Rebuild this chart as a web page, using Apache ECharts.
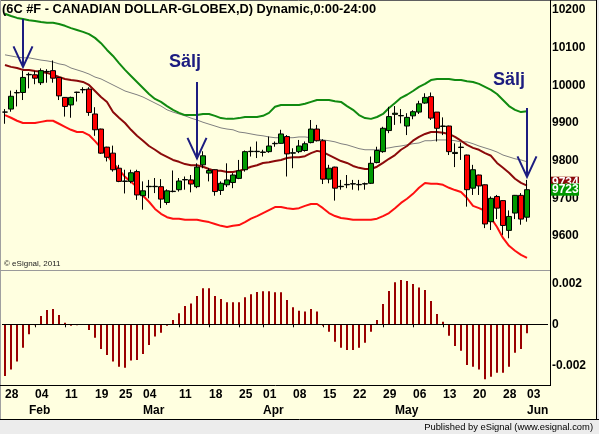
<!DOCTYPE html>
<html>
<head>
<meta charset="utf-8">
<script src="https://cdn.jsdelivr.net/npm/echarts@6/dist/echarts.min.js"></script>
<style>
  html, body { margin: 0; padding: 0; background: #ffffe0; }
  #chart { width: 599px; height: 434px; }
</style>
</head>
<body>
<div id="chart"></div>
<script>
// trading days shown (2010)
const dates = [
  '01-28', '01-29', '02-01', '02-02', '02-03', '02-04', '02-05', '02-08', '02-09', '02-10',
  '02-11', '02-12', '02-16', '02-17', '02-18', '02-19', '02-22', '02-23', '02-24', '02-25',
  '02-26', '03-01', '03-02', '03-03', '03-04', '03-05', '03-08', '03-09', '03-10', '03-11',
  '03-12', '03-15', '03-16', '03-17', '03-18', '03-19', '03-22', '03-23', '03-24', '03-25',
  '03-26', '03-29', '03-30', '03-31', '04-01', '04-05', '04-06', '04-07', '04-08', '04-09',
  '04-12', '04-13', '04-14', '04-15', '04-16', '04-19', '04-20', '04-21', '04-22', '04-23',
  '04-26', '04-27', '04-28', '04-29', '04-30', '05-03', '05-04', '05-05', '05-06', '05-07',
  '05-10', '05-11', '05-12', '05-13', '05-14', '05-17', '05-18', '05-19', '05-20', '05-21',
  '05-24', '05-25', '05-26', '05-27', '05-28', '06-01', '06-02', '06-03'
]
const emptyBars = ['pad1', 'pad2', 'pad3']

const opens = [
  9929, 9937, 9980, 9981, 10028, 10028, 10007, 10036, 10039, 10021,
  9968, 9948, 9981, 9988, 9990, 9924, 9884, 9836, 9820, 9780,
  9745, 9745, 9771, 9707, 9731, 9731, 9731, 9689, 9718, 9723,
  9749, 9749, 9731, 9789, 9767, 9776, 9721, 9736, 9742, 9753,
  9776, 9824, 9824, 9822, 9824, 9845, 9846, 9864, 9820, 9824,
  9827, 9848, 9884, 9853, 9751, 9783, 9731, 9736, 9738, 9736,
  9738, 9740, 9795, 9824, 9880, 9923, 9919, 9892, 9919, 9929,
  9953, 9970, 9929, 9891, 9892, 9819, 9835, 9815, 9727, 9762,
  9736, 9638, 9705, 9694, 9615, 9661, 9708, 9650
]
const highs = [
  9937, 9986, 9988, 10039, 10034, 10038, 10045, 10043, 10066, 10022,
  9969, 9970, 9983, 9995, 9995, 9942, 9885, 9837, 9840, 9789,
  9776, 9776, 9776, 9745, 9749, 9754, 9751, 9724, 9774, 9754,
  9758, 9762, 9793, 9825, 9780, 9777, 9745, 9793, 9767, 9802,
  9827, 9837, 9851, 9829, 9864, 9851, 9882, 9868, 9833, 9855,
  9851, 9908, 9895, 9857, 9789, 9784, 9749, 9762, 9749, 9749,
  9742, 9811, 9837, 9890, 9943, 9945, 9937, 9926, 9934, 9959,
  9979, 9981, 9929, 9915, 9893, 9846, 9848, 9816, 9789, 9763,
  9737, 9705, 9709, 9695, 9668, 9709, 9714, 9749
]
const lows = [
  9898, 9930, 9944, 9961, 9992, 10003, 10001, 10007, 10007, 9961,
  9917, 9914, 9957, 9979, 9919, 9866, 9818, 9798, 9771, 9743,
  9713, 9740, 9696, 9670, 9700, 9714, 9674, 9683, 9716, 9718,
  9723, 9716, 9727, 9780, 9745, 9707, 9709, 9730, 9727, 9751,
  9771, 9811, 9807, 9811, 9821, 9837, 9845, 9758, 9780, 9820,
  9824, 9846, 9851, 9738, 9740, 9694, 9723, 9727, 9723, 9721,
  9723, 9738, 9793, 9821, 9873, 9895, 9899, 9868, 9910, 9924,
  9951, 9908, 9851, 9868, 9815, 9783, 9802, 9678, 9709, 9709,
  9621, 9616, 9645, 9603, 9594, 9645, 9630, 9638
]
const closes = [
  9929, 9971, 9981, 10021, 10029, 10019, 10039, 10037, 10019, 9972,
  9944, 9968, 9982, 9989, 9928, 9882, 9820, 9809, 9776, 9745,
  9746, 9768, 9709, 9720, 9732, 9732, 9698, 9720, 9719, 9746,
  9750, 9738, 9783, 9813, 9774, 9718, 9740, 9749, 9762, 9773,
  9824, 9825, 9825, 9823, 9839, 9846, 9871, 9818, 9821, 9839,
  9845, 9884, 9853, 9751, 9780, 9727, 9732, 9737, 9739, 9737,
  9739, 9793, 9827, 9886, 9917, 9926, 9920, 9915, 9930, 9951,
  9968, 9913, 9886, 9892, 9824, 9822, 9836, 9723, 9776, 9733,
  9632, 9700, 9674, 9628, 9652, 9708, 9645, 9723
]

const upperBand = [
  10190, 10184, 10179, 10176, 10173, 10171, 10168, 10166, 10166, 10163,
  10158, 10152, 10147, 10142, 10136, 10126, 10112, 10094, 10078, 10059,
  10041, 10025, 10009, 9993, 9977, 9964, 9956, 9945, 9935, 9927,
  9921, 9921, 9921, 9924, 9924, 9919, 9913, 9911, 9911, 9913,
  9916, 9916, 9916, 9919, 9927, 9943, 9948, 9948, 9948, 9948,
  9951, 9956, 9961, 9961, 9961, 9958, 9956, 9945, 9935, 9921,
  9913, 9911, 9916, 9924, 9940, 9953, 9967, 9975, 9985, 9996,
  10004, 10014, 10017, 10017, 10017, 10014, 10014, 10011, 10009, 10004,
  9996, 9988, 9977, 9961, 9945, 9935, 9929, 9931
]
const midAvg = [
  10054, 10049, 10046, 10041, 10041, 10038, 10036, 10033, 10028, 10022,
  10017, 10014, 10012, 10009, 10001, 9985, 9969, 9956, 9929, 9914,
  9900, 9882, 9866, 9853, 9839, 9829, 9818, 9810, 9802, 9797,
  9791, 9788, 9788, 9784, 9778, 9773, 9773, 9770, 9770, 9773,
  9778, 9784, 9788, 9794, 9796, 9799, 9802, 9807, 9809, 9809,
  9812, 9820, 9826, 9823, 9815, 9807, 9799, 9794, 9786, 9781,
  9778, 9778, 9784, 9794, 9805, 9815, 9829, 9839, 9853, 9863,
  9871, 9876, 9876, 9874, 9871, 9863, 9853, 9842, 9834, 9829,
  9820, 9813, 9794, 9781, 9768, 9752, 9741, 9734
]
const slowAvg = [
  10081, 10078, 10075, 10073, 10073, 10070, 10067, 10065, 10062, 10057,
  10054, 10046, 10041, 10036, 10030, 10022, 10017, 10009, 10001, 9993,
  9985, 9980, 9975, 9969, 9961, 9953, 9945, 9935, 9929, 9924,
  9919, 9913, 9908, 9902, 9897, 9892, 9887, 9884, 9882, 9876,
  9874, 9871, 9868, 9866, 9863, 9861, 9861, 9861, 9861, 9863,
  9863, 9861, 9858, 9855, 9853, 9850, 9845, 9842, 9837, 9832,
  9829, 9829, 9829, 9832, 9834, 9837, 9839, 9842, 9845, 9847,
  9853, 9853, 9855, 9855, 9855, 9853, 9850, 9850, 9845, 9839,
  9834, 9829, 9823, 9815, 9810, 9805, 9802, 9797
]
const lowerBand = [
  9921, 9914, 9906, 9900, 9900, 9900, 9903, 9906, 9906, 9898,
  9890, 9882, 9876, 9876, 9868, 9852, 9834, 9815, 9794, 9776,
  9757, 9744, 9730, 9707, 9691, 9672, 9659, 9650, 9646, 9646,
  9643, 9643, 9643, 9640, 9637, 9632, 9627, 9624, 9627, 9629,
  9637, 9646, 9653, 9661, 9669, 9677, 9677, 9674, 9672, 9674,
  9680, 9685, 9685, 9674, 9661, 9653, 9648, 9646, 9643, 9643,
  9643, 9643, 9646, 9653, 9661, 9674, 9688, 9699, 9712, 9728,
  9741, 9739, 9739, 9736, 9728, 9722, 9717, 9701, 9680, 9674,
  9667, 9648, 9624, 9595, 9574, 9561, 9550, 9542
]

const oscillator = [
  -0.00252, -0.00220, -0.00182, -0.00114, -0.00049, -0.00005, 0.00040, 0.00070, 0.00075, 0.00045,
  0.00008, -0.00007, -0.00005, 0.00002, -0.00028, -0.00065, -0.00120, -0.00150, -0.00182, -0.00207,
  -0.00212, -0.00177, -0.00174, -0.00145, -0.00101, -0.00060, -0.00041, -0.00007, 0.00021, 0.00054,
  0.00089, 0.00102, 0.00138, 0.00176, 0.00176, 0.00138, 0.00123, 0.00107, 0.00107, 0.00107,
  0.00132, 0.00146, 0.00158, 0.00161, 0.00161, 0.00156, 0.00156, 0.00119, 0.00083, 0.00066,
  0.00062, 0.00075, 0.00062, -0.00007, -0.00036, -0.00085, -0.00114, -0.00125, -0.00125, -0.00114,
  -0.00090, -0.00036, 0.00021, 0.00099, 0.00162, 0.00205, 0.00216, 0.00211, 0.00197, 0.00180,
  0.00167, 0.00114, 0.00050, 0.00013, -0.00056, -0.00106, -0.00129, -0.00199, -0.00207, -0.00220,
  -0.00268, -0.00256, -0.00236, -0.00236, -0.00207, -0.00139, -0.00120, -0.00044
]

// axis labels
const tickBars = [0, 5, 10, 15, 19, 23, 29, 34, 39, 43, 48, 53, 58, 63, 68, 73, 78, 83, 87]
const tickDays = ['28', '04', '11', '19', '25', '04', '11', '18', '25', '01', '08', '15', '22', '29', '06', '13', '20', '28', '03']
const monthBars = [4, 23, 43, 65, 87]
const monthNames = ['Feb', 'Mar', 'Apr', 'May', 'Jun']
const priceTicks = [9600, 9700, 9800, 9900, 10000, 10100, 10200]
const oscTicks = [-0.002, 0, 0.002]

// annotations
const arrowBars = [3, 32, 87]
const arrowTop = [10176, 10009, 9940]
const arrowTip = [10049, 9806, 9757]
const sellBars = [30, 84]
const sellPrice = [10062, 10014]
const sellText = 'Sälj'

const FONT = '"Liberation Sans", Arial, sans-serif'
const NAVY = '#1c1c80'

const cats = dates.concat(emptyBars)
const candles = dates.map((d, i) => [opens[i], closes[i], lows[i], highs[i]])

const chart = echarts.init(document.getElementById('chart'))

const option = {
  backgroundColor: '#ffffe0',
  animation: false,
  title: {
    text: '(6C #F - CANADIAN DOLLAR-GLOBEX,D) Dynamic,0:00-24:00',
    left: 2,
    top: 3,
    padding: 0,
    textStyle: { fontFamily: FONT, fontSize: 12.8, fontWeight: 'bold', color: '#000' }
  },
  grid: [
    { left: 2, width: 546, top: 0.58, height: 273.12 },
    { left: 2, width: 546, top: 271, height: 114.8 }
  ],
  xAxis: [
    {
      type: 'category',
      gridIndex: 0,
      data: cats,
      axisLine: { show: false },
      axisTick: { show: false },
      axisLabel: { show: false }
    },
    {
      type: 'category',
      gridIndex: 1,
      data: cats,
      position: 'bottom',
      axisLine: { show: false },
      axisTick: {
        show: true,
        alignWithLabel: true,
        length: 3,
        interval: (i) => tickBars.includes(i),
        lineStyle: { color: '#000' }
      },
      axisLabel: {
        interval: (i) => tickBars.includes(i),
        formatter: (v, i) => tickDays[tickBars.indexOf(i)] || '',
        align: 'left',
        margin: 3,
        fontFamily: FONT,
        fontSize: 12,
        fontWeight: 'bold',
        color: '#000'
      }
    },
    {
      type: 'category',
      gridIndex: 1,
      data: cats,
      position: 'bottom',
      axisLine: { show: false },
      axisTick: { show: false },
      axisLabel: {
        interval: (i) => monthBars.includes(i),
        formatter: (v, i) => monthNames[monthBars.indexOf(i)] || '',
        align: 'left',
        margin: 19,
        fontFamily: FONT,
        fontSize: 12,
        fontWeight: 'bold',
        color: '#000'
      }
    }
  ],
  yAxis: [
    {
      type: 'value',
      gridIndex: 0,
      position: 'right',
      offset: 2,
      min: 9500,
      max: 10225,
      interval: 100,
      splitLine: { show: false },
      axisLine: { show: false },
      axisTick: { show: false },
      axisLabel: {
        margin: 2,
        formatter: (v) => (priceTicks.includes(v) ? String(v) : ''),
        fontFamily: FONT,
        fontSize: 12,
        fontWeight: 'bold',
        color: '#000'
      }
    },
    {
      type: 'value',
      gridIndex: 1,
      position: 'right',
      offset: 2,
      min: -0.003,
      max: 0.0026,
      interval: 0.001,
      splitLine: { show: false },
      axisLine: { show: false },
      axisTick: { show: false },
      axisLabel: {
        margin: 2,
        formatter: (v) => {
          const t = oscTicks.find((t) => Math.abs(t - v) < 1e-9)
          if (t === undefined) return ''
          return t === 0 ? '0' : t.toFixed(3)
        },
        fontFamily: FONT,
        fontSize: 12,
        fontWeight: 'bold',
        color: '#000'
      }
    }
  ],
  series: [
    {
      name: 'slow',
      type: 'line',
      xAxisIndex: 0,
      yAxisIndex: 0,
      data: slowAvg,
      symbol: 'none',
      lineStyle: { color: '#808080', width: 1 },
      z: 2
    },
    {
      name: 'upper',
      type: 'line',
      xAxisIndex: 0,
      yAxisIndex: 0,
      data: upperBand,
      symbol: 'none',
      lineStyle: { color: '#108a10', width: 2 },
      z: 2
    },
    {
      name: 'mid',
      type: 'line',
      xAxisIndex: 0,
      yAxisIndex: 0,
      data: midAvg,
      symbol: 'none',
      lineStyle: { color: '#8b0a0a', width: 2 },
      z: 2
    },
    {
      name: 'lower',
      type: 'line',
      xAxisIndex: 0,
      yAxisIndex: 0,
      data: lowerBand,
      symbol: 'none',
      lineStyle: { color: '#ff1010', width: 2 },
      z: 2
    },
    {
      name: 'price',
      type: 'candlestick',
      xAxisIndex: 0,
      yAxisIndex: 0,
      data: candles,
      barWidth: 5,
      itemStyle: {
        color: '#009900',
        color0: '#ff0000',
        borderColor: '#000',
        borderColor0: '#000',
        borderWidth: 1
      },
      z: 3
    },
    {
      name: 'osc',
      type: 'bar',
      xAxisIndex: 1,
      yAxisIndex: 1,
      data: oscillator,
      barWidth: 2,
      itemStyle: { color: '#990000' },
      markLine: {
        silent: true,
        symbol: ['none', 'none'],
        label: { show: false },
        lineStyle: { color: '#000', width: 1, type: 'solid' },
        data: [{ yAxis: 0 }]
      }
    }
  ]
}

chart.setOption(option)

// annotations placed through the chart's own scales
function px(idx, val) {
  return chart.convertToPixel({ gridIndex: 0 }, [idx, val])
}

const graphics = [
  // frame
  { type: 'rect', shape: { x: 597, y: 0, width: 2, height: 420 }, style: { fill: '#ececec' }, silent: true },
  { type: 'rect', shape: { x: 0, y: 420, width: 599, height: 14 }, style: { fill: '#ececec' }, silent: true },
  { type: 'line', shape: { x1: 0, y1: 0.5, x2: 597, y2: 0.5 }, style: { stroke: '#606060', lineWidth: 1 }, silent: true },
  { type: 'line', shape: { x1: 0.5, y1: 0, x2: 0.5, y2: 420 }, style: { stroke: '#a0a0a0', lineWidth: 1 }, silent: true },
  { type: 'line', shape: { x1: 596.5, y1: 0, x2: 596.5, y2: 420 }, style: { stroke: '#000', lineWidth: 1 }, silent: true },
  { type: 'line', shape: { x1: 0, y1: 419.5, x2: 599, y2: 419.5 }, style: { stroke: '#000', lineWidth: 1 }, silent: true },
  { type: 'line', shape: { x1: 0, y1: 270.5, x2: 550, y2: 270.5 }, style: { stroke: '#9a9a9a', lineWidth: 1 }, silent: true },
  { type: 'line', shape: { x1: 550.5, y1: 0, x2: 550.5, y2: 386 }, style: { stroke: '#000', lineWidth: 1 }, silent: true },
  { type: 'line', shape: { x1: 0, y1: 385.5, x2: 551, y2: 385.5 }, style: { stroke: '#000', lineWidth: 1 }, silent: true },
  {
    type: 'text',
    style: { text: '© eSignal, 2011', x: 4, y: 264, verticalAlign: 'middle', font: '8px ' + FONT, fill: '#222' },
    silent: true
  },
  {
    type: 'text',
    style: {
      text: 'Published by eSignal (www.esignal.com)',
      x: 593,
      y: 427,
      align: 'right',
      verticalAlign: 'middle',
      font: '9.4px ' + FONT,
      fill: '#000'
    },
    silent: true
  }
]

arrowBars.forEach((b, k) => {
  const top = px(b, arrowTop[k])
  const tip = px(b, arrowTip[k])
  graphics.push({
    type: 'polyline',
    shape: { points: [top, tip] },
    style: { stroke: NAVY, lineWidth: 2, fill: null },
    z: 20,
    silent: true
  })
  graphics.push({
    type: 'polyline',
    shape: { points: [[tip[0] - 9.5, tip[1] - 20.5], tip, [tip[0] + 9.5, tip[1] - 20.5]] },
    style: { stroke: NAVY, lineWidth: 2, fill: null },
    z: 20,
    silent: true
  })
})

sellBars.forEach((b, k) => {
  const p = px(b, sellPrice[k])
  graphics.push({
    type: 'text',
    style: {
      text: sellText,
      x: p[0],
      y: p[1],
      align: 'center',
      verticalAlign: 'middle',
      font: 'bold 18px ' + FONT,
      fill: NAVY
    },
    z: 20,
    silent: true
  })
})

// last value tags on the price scale
const last = dates.length - 1
const yClose = px(last, closes[last])[1]
const yMid = Math.min(px(last, midAvg[last])[1], yClose - 7)
graphics.push(
  { type: 'rect', shape: { x: 551, y: yMid - 6, width: 28, height: 12 }, style: { fill: '#8b0a0a' }, z: 20, silent: true },
  {
    type: 'text',
    style: { text: String(midAvg[last]), x: 552, y: yMid, verticalAlign: 'middle', font: 'bold 12px ' + FONT, fill: '#fff' },
    z: 21,
    silent: true
  },
  { type: 'rect', shape: { x: 551, y: yClose - 6, width: 28, height: 12 }, style: { fill: '#009900' }, z: 22, silent: true },
  {
    type: 'text',
    style: { text: String(closes[last]), x: 552, y: yClose, verticalAlign: 'middle', font: 'bold 12px ' + FONT, fill: '#fff' },
    z: 23,
    silent: true
  }
)

chart.setOption({ graphic: graphics })
</script>
</body>
</html>
